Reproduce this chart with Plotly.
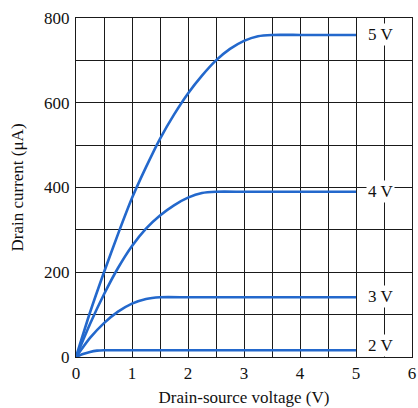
import plotly.graph_objects as go

# Drain-source voltage samples (V)
vds_5 = [0, 0.25, 0.5, 0.75, 1.0, 1.25, 1.5, 1.75, 2.0, 2.25, 2.5, 2.75, 3.0, 3.25, 3.5, 4.0, 4.5, 5.0]
id_5 = [0, 105, 200, 290, 375, 448, 515, 572, 622, 664, 700, 727, 746, 757, 760, 760, 760, 760]

vds_4 = [0, 0.25, 0.5, 0.75, 1.0, 1.25, 1.5, 1.75, 2.0, 2.25, 2.5, 3.0, 4.0, 5.0]
id_4 = [0, 78, 148, 210, 262, 303, 334, 358, 376, 387, 390, 390, 390, 390]

vds_3 = [0, 0.25, 0.5, 0.75, 1.0, 1.25, 1.5, 2.0, 3.0, 4.0, 5.0]
id_3 = [0, 45, 80, 107, 126, 137, 141, 141, 141, 141, 141]

vds_2 = [0, 0.125, 0.25, 0.375, 0.5, 1.0, 2.0, 3.0, 4.0, 5.0]
id_2 = [0, 7, 12, 15, 16, 16, 16, 16, 16, 16]

curve_labels = ["5 V", "4 V", "3 V", "2 V"]
label_y = [762, 390, 142, 28]
label_x = 5.43

x_ticks = [0, 1, 2, 3, 4, 5, 6]
y_ticks = [0, 200, 400, 600, 800]

series = [(vds_5, id_5), (vds_4, id_4), (vds_3, id_3), (vds_2, id_2)]

line_color = "#2368cc"
grid_color = "#1a1a1a"
font_family = "Liberation Serif, Times New Roman, serif"

fig = go.Figure()
for (xs, ys), name in zip(series, curve_labels):
    fig.add_trace(go.Scatter(x=xs, y=ys, mode="lines", name=name,
                             line=dict(color=line_color, width=2.6, shape="spline", smoothing=0.6),
                             hoverinfo="skip", showlegend=False))

for txt, yy in zip(curve_labels, label_y):
    fig.add_annotation(x=label_x, y=yy, text=txt, showarrow=False,
                       font=dict(family=font_family, size=17, color="#111"),
                       bgcolor="white", borderpad=1, xanchor="center", yanchor="middle")

fig.update_layout(
    width=418, height=408,
    margin=dict(l=76, r=6, t=18, b=51, autoexpand=False),
    paper_bgcolor="white", plot_bgcolor="white",
    font=dict(family=font_family, size=17, color="#111"),
    showlegend=False,
)
fig.update_xaxes(
    range=[0, 6], tickvals=x_ticks, ticktext=[str(v) for v in x_ticks],
    showgrid=True, gridcolor=grid_color, gridwidth=1,
    minor=dict(dtick=0.5, showgrid=True, gridcolor=grid_color, gridwidth=1),
    showline=True, linecolor=grid_color, linewidth=1.2, mirror=True,
    zeroline=False, ticks="", ticklabelstandoff=0, automargin=False,
    tickfont=dict(family=font_family, size=17),
    title=dict(text="Drain-source voltage (V)", font=dict(family=font_family, size=17), standoff=9),
)
fig.update_yaxes(
    range=[0, 800], tickvals=y_ticks, ticktext=[str(v) for v in y_ticks],
    showgrid=True, gridcolor=grid_color, gridwidth=1,
    minor=dict(dtick=100, showgrid=True, gridcolor=grid_color, gridwidth=1),
    showline=True, linecolor=grid_color, linewidth=1.2, mirror=True,
    zeroline=False, ticks="", ticklabelstandoff=2, automargin=False,
    tickfont=dict(family=font_family, size=17),
    title=dict(text="Drain current (μA)", font=dict(family=font_family, size=17), standoff=16),
)

# remove the browser's default page margin so the 418x408 figure fills the window
fig.write_html("out.html", config={"displayModeBar": False, "staticPlot": True},
               post_script="document.body.style.margin='0';document.body.style.overflow='hidden';")
